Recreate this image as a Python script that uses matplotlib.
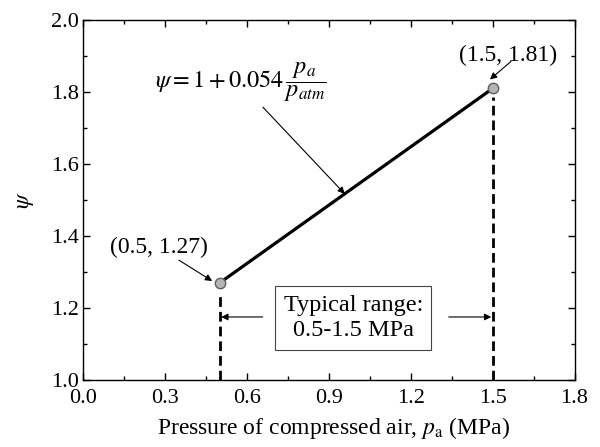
import matplotlib
matplotlib.use('Agg')
import matplotlib.pyplot as plt
from matplotlib.ticker import MultipleLocator

plt.rcParams['font.family'] = ['Liberation Serif', 'DejaVu Serif']
plt.rcParams['mathtext.fontset'] = 'stix'

# data
pa = [0.5, 1.5]
psi = [1.27, 1.81]
range_lo, range_hi = 0.5, 1.5

fig = plt.figure(figsize=(6, 4.47), dpi=100)
ax = fig.add_axes([0.139, 0.150, 0.8185, 0.805])

ax.plot(pa, psi, color='black', lw=2.3, zorder=3)
ax.plot(pa, psi, 'o', ms=7.5, mfc='#b4b4b4', mec='#606060', mew=1, zorder=4)
for x, y in zip(pa, psi):
    ax.plot([x, x], [1.0, y - 0.025], ls=(0, (3.5, 1.8)), color='black', lw=2, zorder=2)

arr = dict(arrowstyle='-|>', color='black', lw=0.8, mutation_scale=10,
           shrinkA=0, shrinkB=0)

ax.annotate('(0.5, 1.27)', xy=(0.47, 1.27), xytext=(0.277, 1.369),
            ha='center', va='center', fontsize=17)
ax.annotate('', xy=(0.472, 1.275), xytext=(0.35, 1.333), arrowprops=arr)
ax.annotate('(1.5, 1.81)', xy=(1.5, 1.81), xytext=(1.556, 1.903),
            ha='center', va='center', fontsize=17)
ax.annotate('', xy=(1.49, 1.835), xytext=(1.567, 1.885), arrowprops=arr)
ax.text(0.577, 1.828, r'$\psi=1+0.054\,\dfrac{p_a}{p_{atm}}$',
        ha='center', va='center', fontsize=17.5)
ax.annotate('', xy=(0.958, 1.517), xytext=(0.658, 1.758), arrowprops=arr)

ax.text(0.989, 1.172, 'Typical range:\n0.5-1.5 MPa', ha='center', va='center',
        fontsize=17.5, linespacing=1.3,
        bbox=dict(boxstyle='square,pad=0.35', fc='white', ec='#444444', lw=0.8))
ax.annotate('', xy=(range_lo + 0.005, 1.175), xytext=(0.657, 1.175), arrowprops=arr)
ax.annotate('', xy=(range_hi - 0.005, 1.175), xytext=(1.339, 1.175), arrowprops=arr)

ax.set_xlim(0.0, 1.8)
ax.set_ylim(1.0, 2.0)
ax.xaxis.set_major_locator(MultipleLocator(0.3))
ax.xaxis.set_minor_locator(MultipleLocator(0.15))
ax.yaxis.set_major_locator(MultipleLocator(0.2))
ax.yaxis.set_minor_locator(MultipleLocator(0.1))
ax.xaxis.set_major_formatter(plt.FormatStrFormatter('%.1f'))
ax.yaxis.set_major_formatter(plt.FormatStrFormatter('%.1f'))
ax.tick_params(which='both', direction='in', top=True, right=True, labelsize=16)
ax.tick_params(axis='x', pad=6.5)
ax.tick_params(axis='y', pad=3)
ax.tick_params(which='major', length=5, width=1)
ax.tick_params(which='minor', length=3, width=1)
for s in ax.spines.values():
    s.set_linewidth(1)

ax.set_xlabel(r'Pressure of compressed air, $p_{\rm a}$ (MPa)', fontsize=17, labelpad=0)
ax.xaxis.set_label_coords(0.509, -0.098)
ax.set_ylabel(r'$\psi$', fontsize=17, labelpad=11)

fig.savefig('out.png', dpi=100)
